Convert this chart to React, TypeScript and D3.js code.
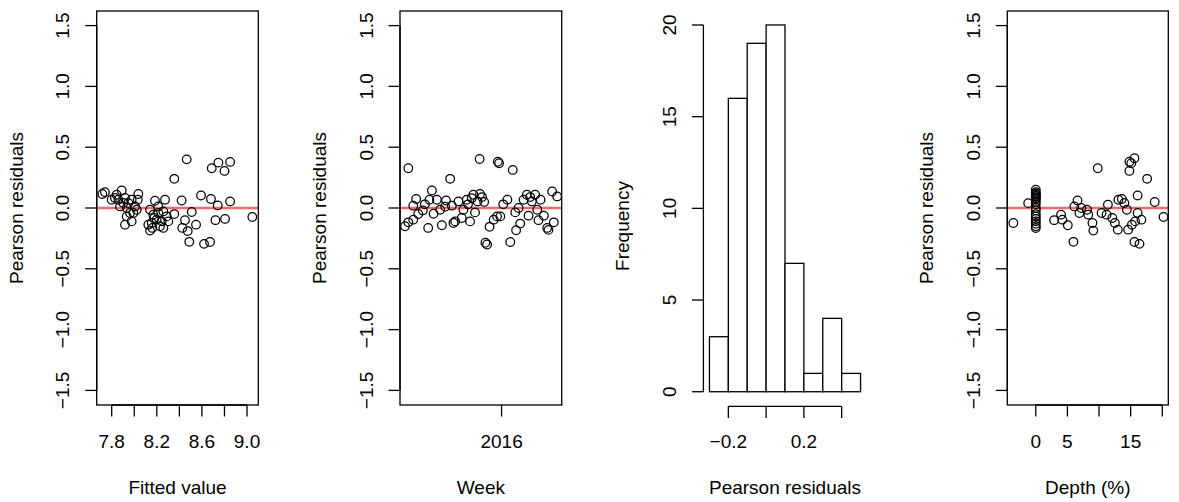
import React from 'react';
import * as d3 from 'd3';

// ---------- data ----------
const residTicks = [-1.5, -1, -0.5, 0, 0.5, 1, 1.5];
const residTickLabels = ['\u22121.5', '\u22121.0', '\u22120.5', '0.0', '0.5', '1.0', '1.5'];

const fittedTicks = [7.8, 8.0, 8.2, 8.4, 8.6, 8.8, 9.0];
const fittedTickLabels = ['7.8', '', '8.2', '', '8.6', '', '9.0'];

const fittedValue = [
  7.717, 7.74, 7.8, 7.829, 7.844, 7.859, 7.874, 7.889, 7.903, 7.918, 7.918, 7.933, 7.933, 7.947,
  7.962, 7.977, 7.977, 7.992, 8.007, 8.022, 8.031, 8.036,
  8.125, 8.14, 8.14, 8.155, 8.16, 8.169, 8.178, 8.184, 8.199, 8.213, 8.213, 8.228, 8.243, 8.258,
  8.258, 8.273, 8.288, 8.302,
  8.355, 8.355, 8.42, 8.426, 8.45, 8.465, 8.474, 8.488, 8.51, 8.548, 8.592, 8.619, 8.672, 8.68,
  8.687, 8.72, 8.74, 8.746, 8.8, 8.805, 8.85, 8.85, 9.047,
];
const fittedResid = [
  0.115, 0.13, 0.068, 0.082, 0.109, 0.068, 0.013, 0.144, 0.041, 0.082, -0.137, 0.0, -0.069, 0.041,
  -0.041, 0.068, -0.11, -0.041, 0.013, -0.014, 0.068, 0.115,
  -0.137, -0.014, -0.186, -0.123, -0.164, -0.055, -0.082, 0.06, -0.096, -0.041, 0.013, -0.15, -0.11,
  -0.028, -0.164, 0.068, -0.069, -0.11,
  0.24, -0.05, 0.062, -0.164, -0.1, 0.4, -0.19, -0.278, -0.033, -0.137, 0.103, -0.295, -0.28, 0.074,
  0.327, -0.1, 0.021, 0.373, 0.305, -0.09, 0.379, 0.054, -0.074,
];

const weekDate = [
  '2015-05-13', '2015-05-21', '2015-05-21', '2015-06-02', '2015-06-02', '2015-06-09', '2015-06-14',
  '2015-06-25', '2015-06-30', '2015-07-08', '2015-07-11', '2015-07-17', '2015-07-21', '2015-07-29',
  '2015-08-06', '2015-08-10', '2015-08-18', '2015-08-20', '2015-08-30', '2015-09-03', '2015-09-07',
  '2015-09-11', '2015-09-19', '2015-09-27', '2015-10-01', '2015-10-09', '2015-10-12', '2015-10-17',
  '2015-10-21', '2015-10-25', '2015-10-29', '2015-11-04', '2015-11-09', '2015-11-10', '2015-11-15',
  '2015-11-20', '2015-11-23', '2015-11-27', '2015-12-03', '2015-12-13', '2015-12-21', '2015-12-23',
  '2015-12-26', '2015-12-29', '2016-01-05', '2016-01-15', '2016-01-22', '2016-01-28', '2016-02-03',
  '2016-02-05', '2016-02-11', '2016-02-15', '2016-02-23', '2016-03-02', '2016-03-06', '2016-03-10',
  '2016-03-14', '2016-03-22', '2016-03-27', '2016-03-30', '2016-04-04', '2016-04-12', '2016-04-20',
  '2016-04-23', '2016-05-02', '2016-05-06', '2016-05-14',
];
const weekResid = [
  -0.15, 0.327, -0.118, 0.019, -0.096, 0.074, -0.049,
  -0.02, 0.03, -0.164, 0.068, 0.144, -0.047, 0.068,
  -0.014, -0.142, 0.01, 0.062, 0.24, 0.019, -0.123,
  -0.11, 0.054, -0.082, -0.014, 0.068, 0.03, -0.11,
  0.08, 0.109, -0.036, 0.054, 0.403, 0.115, 0.09,
  0.05, -0.286, -0.3, -0.155, -0.096, -0.069, 0.38,
  0.368, -0.069, 0.03, 0.068, -0.28, 0.313, -0.036,
  -0.183, 0.0, -0.128, 0.068, 0.109, -0.063, 0.09,
  0.054, 0.109, -0.014, -0.1, 0.068, -0.063, -0.164,
  -0.18, 0.136, -0.118, 0.095,
];
const weekDomain = ['2015-05-01', '2016-05-25'];
const weekTicks = ['2016-01-01'];
const weekTickLabels = ['2016'];

const histBreaks = [-0.3, -0.2, -0.1, 0.0, 0.1, 0.2, 0.3, 0.4, 0.5];
const histCounts = [3, 16, 19, 20, 7, 1, 4, 1];
const histXTicks = [-0.2, 0.0, 0.2, 0.4];
const histXTickLabels = ['\u22120.2', '', '0.2', ''];
const freqTicks = [0, 5, 10, 15, 20];

const depthTicks = [0, 5, 10, 15, 20];
const depthTickLabels = ['0', '5', '', '15', ''];
const depthValue = [
  -3.54, -1.2, 0, 0, 0, 0, 0, 0, 0, 0, 0, 0, 0, 0, 0, 0, 0, 0, 0, 0, 0,
  2.9, 4.0, 4.2, 5.06, 5.95, 6.1, 6.6, 6.9, 7.2, 8.1, 8.3, 8.96, 9.1, 9.8, 10.4, 11.2, 11.4, 12.1,
  12.5, 12.97, 13.07, 13.6, 14.0, 14.4, 14.6, 14.8, 14.8, 15.1, 15.2, 15.6, 15.6, 15.7, 16.1, 16.1,
  16.4, 16.7, 17.6, 18.8, 20.2,
];
const depthResid = [
  -0.123, 0.04, 0.15, 0.13, 0.12, 0.11, 0.1, 0.09, 0.08, 0.07, 0.05, 0.03, 0.0, -0.02, -0.05, -0.07,
  -0.09, -0.11, -0.13, -0.15, -0.165,
  -0.1, -0.055, -0.096, -0.142, -0.278, 0.013, 0.062, -0.041, 0.0, -0.014, -0.055, -0.123, -0.186,
  0.327, -0.041, -0.055, 0.027, -0.082,
  -0.123, -0.178, 0.068, 0.074, 0.041, -0.014, -0.178, 0.381, 0.305, 0.368, -0.137, 0.409, -0.28,
  -0.11, 0.103, -0.041,
  -0.295, -0.096, 0.24, 0.049, -0.074,
];

// ---------- layout / style ----------
const W = 1179;
const H = 502;
const FONT = "'Liberation Sans', Arial, Helvetica, sans-serif";
const FS = 19;
const TOP = 11;
const BOTTOM = 405;
const TICK = 11.5;
const LABEL_OFF = 27.5;
const TITLE_OFF = 74;
const XLABEL_Y = 448;
const XTITLE_Y = 493.5;
const LW = 1.3;
const RED = '#f46a6a';

const residScale = d3.scaleLinear().domain([-1.62, 1.62]).range([BOTTOM, TOP]);

function YAxis({ x, scale, ticks, labels, title, titleY }: any) {
  const yc = titleY ?? (TOP + BOTTOM) / 2;
  return (
    <g>
      <line x1={x} x2={x} y1={scale(ticks[0])} y2={scale(ticks[ticks.length - 1])} stroke="#000" strokeWidth={LW} />
      {ticks.map((t: number, i: number) => (
        <g key={i}>
          <line x1={x - TICK} x2={x} y1={scale(t)} y2={scale(t)} stroke="#000" strokeWidth={LW} />
          <text
            transform={`translate(${x - LABEL_OFF},${scale(t)}) rotate(-90)`}
            textAnchor="middle"
            fontSize={FS}
            fontFamily={FONT}
          >
            {labels[i]}
          </text>
        </g>
      ))}
      <text
        transform={`translate(${x - TITLE_OFF},${yc}) rotate(-90)`}
        textAnchor="middle"
        fontSize={FS}
        fontFamily={FONT}
      >
        {title}
      </text>
    </g>
  );
}

function XAxis({ y, scale, ticks, labels, title, cx }: any) {
  const xs = ticks.map((t: any) => scale(t));
  return (
    <g>
      <line x1={xs[0]} x2={xs[xs.length - 1]} y1={y} y2={y} stroke="#000" strokeWidth={LW} />
      {xs.map((x: number, i: number) => (
        <g key={i}>
          <line x1={x} x2={x} y1={y} y2={y + TICK} stroke="#000" strokeWidth={LW} />
          {labels[i] ? (
            <text x={x} y={XLABEL_Y} textAnchor="middle" fontSize={FS} fontFamily={FONT}>
              {labels[i]}
            </text>
          ) : null}
        </g>
      ))}
      <text x={cx} y={XTITLE_Y} textAnchor="middle" fontSize={FS} fontFamily={FONT}>
        {title}
      </text>
    </g>
  );
}

function ScatterPanel({ x0, x1, xScale, xs, ys, xTicks, xLabels, xTitle }: any) {
  return (
    <g>
      <line
        x1={x0}
        x2={x1}
        y1={residScale(0)}
        y2={residScale(0)}
        stroke={RED}
        strokeWidth={2.6}
      />
      {xs.map((v: any, i: number) => (
        <circle
          key={i}
          cx={xScale(v)}
          cy={residScale(ys[i])}
          r={4.3}
          fill="none"
          stroke="#000"
          strokeWidth={1.25}
        />
      ))}
      <rect x={x0} y={TOP} width={x1 - x0} height={BOTTOM - TOP} fill="none" stroke="#000" strokeWidth={LW} />
      <YAxis x={x0} scale={residScale} ticks={residTicks} labels={residTickLabels} title="Pearson residuals" />
      <XAxis y={BOTTOM} scale={xScale} ticks={xTicks} labels={xLabels} title={xTitle} cx={(x0 + x1) / 2} />
    </g>
  );
}

export default function App() {
  // panel 1
  const p1 = [96.7, 258.3];
  const fittedScale = d3.scaleLinear().domain([7.667, 9.1]).range(p1);

  // panel 2
  const p2 = [400, 561.7];
  const parse = d3.timeParse('%Y-%m-%d');
  const weekScale = d3
    .scaleTime()
    .domain(weekDomain.map((d) => parse(d) as Date))
    .range(p2);
  const weekDates = weekDate.map((d) => parse(d) as Date);
  const weekTickDates = weekTicks.map((d) => parse(d) as Date);

  // panel 3
  const histX = d3.scaleLinear().domain([-0.332, 0.532]).range([703.4, 866.6]);
  const histY = d3.scaleLinear().domain([-0.8, 20.8]).range([406.4, 10.3]);

  // panel 4
  const p4 = [1007.3, 1168.3];
  const depthScale = d3.scaleLinear().domain([-4.5, 20.95]).range(p4);

  return (
    <svg
      width={W}
      height={H}
      viewBox={`0 0 ${W} ${H}`}
      style={{ position: 'absolute', left: 0, top: 0, background: '#fff' }}
    >
      <rect x={0} y={0} width={W} height={H} fill="#fff" />
      <ScatterPanel
        x0={p1[0]}
        x1={p1[1]}
        xScale={fittedScale}
        xs={fittedValue}
        ys={fittedResid}
        xTicks={fittedTicks}
        xLabels={fittedTickLabels}
        xTitle="Fitted value"
      />
      <ScatterPanel
        x0={p2[0]}
        x1={p2[1]}
        xScale={weekScale}
        xs={weekDates}
        ys={weekResid}
        xTicks={weekTickDates}
        xLabels={weekTickLabels}
        xTitle="Week"
      />
      {/* histogram */}
      <g>
        {histCounts.map((c, i) => (
          <rect
            key={i}
            x={histX(histBreaks[i])}
            y={histY(c)}
            width={histX(histBreaks[i + 1]) - histX(histBreaks[i])}
            height={histY(0) - histY(c)}
            fill="#fff"
            stroke="#000"
            strokeWidth={LW}
          />
        ))}
        <YAxis
          x={histX(-0.332)}
          scale={histY}
          ticks={freqTicks}
          labels={freqTicks.map(String)}
          title="Frequency"
          titleY={226}
        />
        <XAxis
          y={histY(-0.8)}
          scale={histX}
          ticks={histXTicks}
          labels={histXTickLabels}
          title="Pearson residuals"
          cx={(histX(-0.332) + histX(0.532)) / 2}
        />
      </g>
      <ScatterPanel
        x0={p4[0]}
        x1={p4[1]}
        xScale={depthScale}
        xs={depthValue}
        ys={depthResid}
        xTicks={depthTicks}
        xLabels={depthTickLabels}
        xTitle="Depth (%)"
      />
    </svg>
  );
}
